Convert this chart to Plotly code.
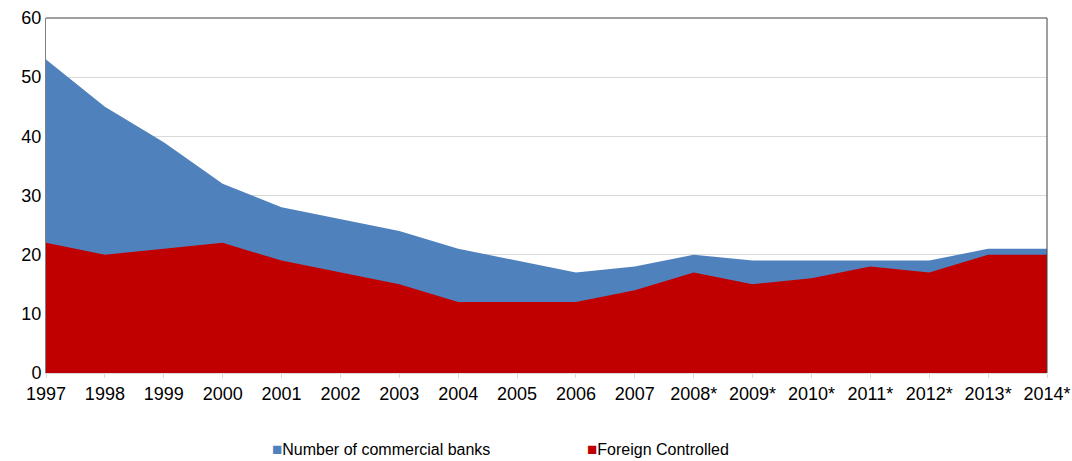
import plotly.graph_objects as go

years = ["1997", "1998", "1999", "2000", "2001", "2002", "2003", "2004", "2005",
         "2006", "2007", "2008*", "2009*", "2010*", "2011*", "2012*", "2013*", "2014*"]
commercial_banks = [53, 45, 39, 32, 28, 26, 24, 21, 19, 17, 18, 20, 19, 19, 19, 19, 21, 21]
foreign_controlled = [22, 20, 21, 22, 19, 17, 15, 12, 12, 12, 14, 17, 15, 16, 18, 17, 20, 20]

series = [
    ("Number of commercial banks", commercial_banks, "#4F81BD"),
    ("Foreign Controlled", foreign_controlled, "#C00000"),
]

FONT = "Liberation Sans, Arial, sans-serif"

fig = go.Figure()
for name, values, color in series:
    fig.add_trace(go.Scatter(
        x=years, y=values, name=name, mode="lines",
        line=dict(width=0, color=color),
        fill="tozeroy", fillcolor=color,
        showlegend=False, hoverinfo="x+y+name",
    ))

# legend row below the plot, built from the series names and colours
legend_x = [0.2244, 0.5395]
for (name, _, color), lx in zip(series, legend_x):
    fig.add_annotation(
        xref="paper", yref="paper", x=lx, y=-0.216, xanchor="left", yanchor="middle",
        text=f"<span style='color:{color};font-size:17px'>■</span>{name}",
        showarrow=False, font=dict(family=FONT, size=16, color="#000000"),
        borderpad=0,
    )

# dark frame along the top and right edges of the plot area
fig.add_shape(type="line", xref="paper", yref="paper", x0=0, x1=1, y0=1, y1=1,
              line=dict(color="#404040", width=1))
fig.add_shape(type="line", xref="paper", yref="paper", x0=1, x1=1, y0=0, y1=1,
              line=dict(color="#404040", width=1))

fig.update_layout(
    width=1072, height=461,
    margin=dict(l=46, r=25, t=18, b=88, autoexpand=False),
    paper_bgcolor="white", plot_bgcolor="white",
    font=dict(family=FONT, size=18, color="#000000"),
    showlegend=False,
)
fig.update_xaxes(
    type="category", range=[0, len(years) - 1], automargin=False,
    showgrid=False, showline=True, linecolor="#D9D9D9", linewidth=1,
    ticks="outside", ticklen=4, tickcolor="#D9D9D9",
    tickfont=dict(family=FONT, size=18, color="#000000"),
    zeroline=False,
)
fig.update_yaxes(
    range=[0, 60], dtick=10, automargin=False,
    showgrid=True, gridcolor="#D9D9D9", gridwidth=1,
    showline=True, linecolor="#808080", linewidth=1,
    ticks="", zeroline=False,
    tickfont=dict(family=FONT, size=18, color="#000000"),
)

fig.write_html("out.html")
